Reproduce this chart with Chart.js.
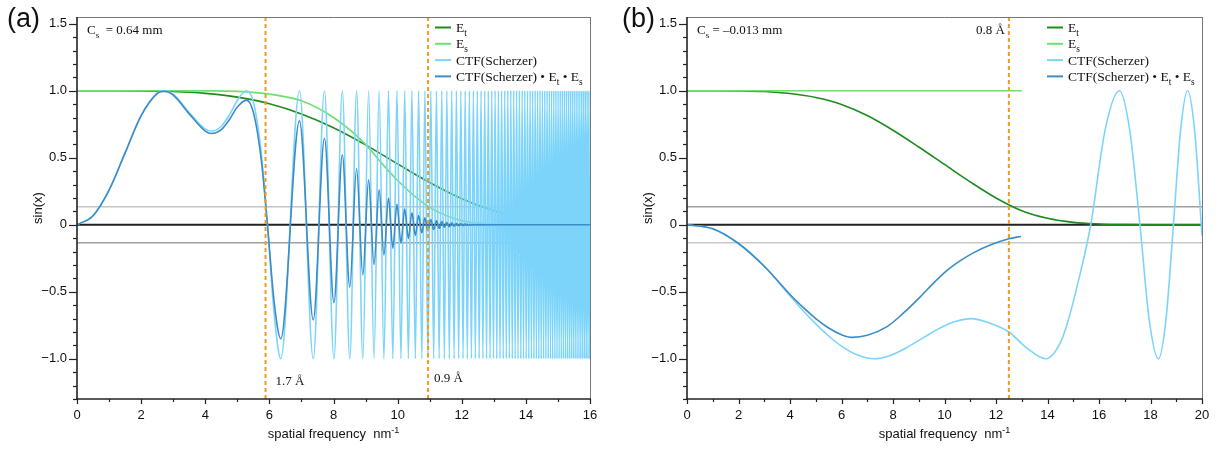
<!DOCTYPE html>
<html lang="en">
<head>
<meta charset="UTF-8">
<title>CTF (Scherzer) with envelopes</title>
<script src="https://cdn.jsdelivr.net/npm/chart.js"></script>
<style>
  body { margin: 0; background: #fff; }
  #wrap { position: relative; width: 1219px; height: 452px; }
  #wrap canvas { position: absolute; top: 0; }
</style>
</head>
<body>
<div id="wrap">
  <canvas id="ctfA" width="600" height="452" style="left:0px"></canvas>
  <canvas id="ctfB" width="609" height="452" style="left:610px"></canvas>
</div>
<script>
// ---------- panel (a): Cs = 0.64 mm ----------
const freqA = [0, 1, 2, 3, 4, 5, 6, 7, 8, 9, 10, 11, 12, 13, 14, 15, 16];
const etA   = [1, 1, 0.999, 0.994, 0.980, 0.952, 0.903, 0.827, 0.724, 0.596, 0.454, 0.315, 0.194, 0.105, 0.048, 0.018, 0.006];
const esFreqA = [0, 1, 2, 3, 4, 5, 6, 7, 8, 9, 9.5, 10, 10.5, 11, 11.5, 12, 12.5, 13, 14, 16];
const esA     = [1, 1, 1, 1, 0.999, 0.995, 0.975, 0.925, 0.80, 0.60, 0.46, 0.33, 0.22, 0.13, 0.07, 0.03, 0.012, 0.004, 0, 0];

// CTF before the first trough (k < 6.36)
const ctfLowFreq = [0, 0.5, 1, 1.5, 2, 2.5, 2.72, 3, 3.5, 4, 4.2, 4.5, 4.75, 5, 5.28, 5.5, 5.75, 5.94, 6.15];
const ctfLow     = [0, 0.067, 0.258, 0.536, 0.815, 0.982, 1, 0.974, 0.838, 0.714, 0.699, 0.735, 0.818, 0.927, 1, 0.917, 0.531, 0, -0.667];
const dampLow    = [0, 0.067, 0.258, 0.536, 0.814, 0.979, 0.996, 0.967, 0.827, 0.699, 0.681, 0.71, 0.784, 0.878, 0.93, 0.84, 0.478, 0, -0.578];

// positions of CTF troughs (-1) and peaks (+1) beyond 6.3 nm^-1
const troughFreq = [6.356, 7.369, 8.014, 8.508, 8.915, 9.264, 9.573, 9.850, 10.103, 10.335, 10.552, 10.754, 10.944, 11.124, 11.295,
  11.457, 11.612, 11.761, 11.904, 12.041, 12.173, 12.301, 12.424, 12.544, 12.660, 12.773, 12.882, 12.989, 13.093, 13.194,
  13.293, 13.390, 13.484, 13.576, 13.666, 13.755, 13.842, 13.926, 14.010, 14.091, 14.172, 14.251, 14.328, 14.404, 14.479,
  14.553, 14.625, 14.697, 14.767, 14.836, 14.905, 14.972, 15.038, 15.104, 15.168, 15.232, 15.295, 15.357, 15.418, 15.479,
  15.538, 15.597, 15.656, 15.713, 15.770, 15.827, 15.882, 15.937, 15.992];
const peakFreq = [6.939, 7.718, 8.275, 8.720, 9.095, 9.423, 9.715, 9.979, 10.221, 10.445, 10.654, 10.851, 11.035, 11.210, 11.377,
  11.535, 11.687, 11.833, 11.973, 12.107, 12.237, 12.363, 12.485, 12.602, 12.717, 12.828, 12.936, 13.041, 13.144, 13.244,
  13.342, 13.437, 13.530, 13.622, 13.711, 13.799, 13.884, 13.968, 14.051, 14.132, 14.211, 14.290, 14.366, 14.442, 14.516,
  14.589, 14.661, 14.732, 14.802, 14.871, 14.938, 15.005, 15.071, 15.136, 15.200, 15.263, 15.326, 15.387, 15.448, 15.508,
  15.568, 15.626, 15.684, 15.742, 15.798, 15.855, 15.910, 15.965];
const ctfEndFreq = 16;
const ctfEnd = -0.5;

// damped CTF (CTF * Et * Es) at the same troughs / peaks, then flat
const dampTrough = [-0.85, -0.71, -0.58, -0.465, -0.375, -0.297, -0.225, -0.175, -0.135, -0.103, -0.079, -0.060, -0.045,
  -0.035, -0.026, -0.019, -0.014, -0.010, -0.0075, -0.0055, -0.004];
const dampPeak = [0.775, 0.645, 0.52, 0.42, 0.335, 0.26, 0.20, 0.153, 0.118, 0.090, 0.069, 0.052, 0.039, 0.030, 0.023,
  0.016, 0.012, 0.009, 0.0065, 0.0047];
const dampTailFreq = [12.3, 13, 14, 15, 16];
const dampTail     = [0, 0, 0, 0, 0];

// ---------- panel (b): Cs = -0.013 mm ----------
const freqB = [0, 1, 2, 3, 4, 5, 6, 7, 8, 9, 10, 11, 12, 13, 14, 15, 16, 17, 18, 20];
const etB   = [1, 1, 0.999, 0.994, 0.979, 0.95, 0.898, 0.815, 0.705, 0.58, 0.45, 0.32, 0.2, 0.105, 0.048, 0.018, 0.006, 0.001, 0, 0];
const esFreqB = [0, 13];
const esB     = [1, 1];
const ctfFreqB = [0, 1, 2, 3, 4, 4.5, 5, 5.5, 6, 6.6, 7.25, 7.9, 8.5, 9.2, 9.83, 10.45, 11.06, 11.7, 12.5, 13.2, 13.94, 14.5,
  14.81, 15.25, 15.68, 16.24, 16.79, 17.19, 17.59, 17.95, 18.31, 18.6, 18.89, 19.17, 19.44, 19.71, 20];
const ctfB = [0, -0.03, -0.14, -0.31, -0.53, -0.64, -0.74, -0.83, -0.905, -0.97, -1.0, -0.975, -0.92, -0.84, -0.77, -0.72,
  -0.70, -0.73, -0.80, -0.92, -1.0, -0.88, -0.71, -0.38, 0, 0.71, 1.0, 0.71, 0, -0.71, -1.0, -0.71, 0, 0.71, 1.0, 0.71, -0.08];
const dampFreqB = [0, 1, 2, 3, 4, 4.5, 5, 5.5, 6, 6.41, 7.0, 7.77, 8.4, 9.05, 9.6, 10.1, 10.6, 11.12, 11.8, 12.5, 12.97];
const dampB     = [0, -0.03, -0.14, -0.31, -0.52, -0.615, -0.70, -0.77, -0.82, -0.84, -0.825, -0.76, -0.66, -0.54, -0.43,
  -0.34, -0.27, -0.21, -0.15, -0.105, -0.087];

// ---------- helpers ----------
const COL = { et: '#1d8c1d', es: '#6ee06e', ctf: '#7dd4fb', damp: '#3b8cc8', orange: '#f59a1e' };
const SERIF = '"Liberation Serif", "Times New Roman", serif';
const SANS = '"Liberation Sans", Arial, Helvetica, sans-serif';

const pts = (xs, ys) => xs.map((x, i) => ({ x: x, y: ys[i] }));
const byX = (a, b) => a.x - b.x;

const ctfAPts = pts(ctfLowFreq, ctfLow)
  .concat(troughFreq.map(x => ({ x: x, y: -1 })), peakFreq.map(x => ({ x: x, y: 1 })))
  .sort(byX)
  .concat([{ x: ctfEndFreq, y: ctfEnd }]);

const dampAPts = pts(ctfLowFreq, dampLow)
  .concat(pts(troughFreq.slice(0, dampTrough.length), dampTrough), pts(peakFreq.slice(0, dampPeak.length), dampPeak))
  .sort(byX)
  .concat(pts(dampTailFreq, dampTail));

function drawRich(ctx, parts, x, y, size, family, align) {
  const fonts = parts.map(p => (p[1] ? size * 0.7 : size) + 'px ' + family);
  let total = 0;
  const widths = parts.map((p, i) => { ctx.font = fonts[i]; const w = ctx.measureText(p[0]).width; total += w; return w; });
  let cx = align === 'right' ? x - total : align === 'center' ? x - total / 2 : x;
  ctx.textAlign = 'left';
  ctx.textBaseline = 'alphabetic';
  parts.forEach((p, i) => {
    ctx.font = fonts[i];
    const dy = p[1] === 1 ? size * 0.28 : p[1] === 2 ? -size * 0.42 : 0;
    ctx.fillText(p[0], cx, y + dy);
    cx += widths[i];
  });
}

function seg(ctx, x1, y1, x2, y2) {
  ctx.beginPath(); ctx.moveTo(x1, y1); ctx.lineTo(x2, y2); ctx.stroke();
}

const legendItems = [
  { color: COL.et, parts: [['E'], ['t', 1]] },
  { color: COL.es, parts: [['E'], ['s', 1]] },
  { color: COL.ctf, parts: [['CTF(Scherzer)']] },
  { color: COL.damp, parts: [['CTF(Scherzer) \u2022 E'], ['t', 1], [' \u2022 E'], ['s', 1]] }
];

const decor = {
  id: 'decor',
  beforeDatasetsDraw(chart, args, o) {
    const { ctx, chartArea: a, scales: { y } } = chart;
    ctx.save();
    ctx.lineWidth = 1.5;
    ctx.strokeStyle = o.grayTop;
    seg(ctx, a.left, y.getPixelForValue(0.134), a.right, y.getPixelForValue(0.134));
    ctx.strokeStyle = o.grayBottom;
    seg(ctx, a.left, y.getPixelForValue(-0.134), a.right, y.getPixelForValue(-0.134));
    ctx.strokeStyle = '#222';
    ctx.lineWidth = 2;
    seg(ctx, a.left, y.getPixelForValue(0), a.right, y.getPixelForValue(0));
    ctx.restore();
  },
  afterDatasetsDraw(chart, args, o) {
    const { ctx, chartArea: a, scales: { x } } = chart;
    ctx.save();
    ctx.strokeStyle = COL.orange;
    ctx.lineWidth = 2;
    ctx.setLineDash([4, 3]);
    o.vlines.forEach(v => { const px = x.getPixelForValue(v); seg(ctx, px, a.top, px, a.bottom); });
    ctx.restore();
  },
  afterDraw(chart, args, o) {
    const { ctx, chartArea: a, scales: { x, y } } = chart;
    ctx.save();
    // frame
    ctx.strokeStyle = '#777';
    ctx.lineWidth = 1;
    seg(ctx, a.left, a.top + 0.5, a.right, a.top + 0.5);
    seg(ctx, a.right + 0.5, a.top, a.right + 0.5, a.bottom);
    ctx.strokeStyle = '#222';
    ctx.lineWidth = 1.6;
    seg(ctx, a.left, a.top, a.left, a.bottom + 1);
    seg(ctx, a.left - 1, a.bottom, a.right + 1, a.bottom);
    // ticks
    ctx.lineWidth = 1.2;
    for (let i = 0; i <= o.xMax; i++) {
      const px = Math.round(x.getPixelForValue(i)) + 0.5;
      seg(ctx, px, a.bottom, px, a.bottom + (i % 2 === 0 ? 5 : 3));
    }
    for (let j = -13; j <= 15; j++) {
      const py = Math.round(y.getPixelForValue(j / 10)) + 0.5;
      seg(ctx, a.left - (j % 5 === 0 ? 8 : 4), py, a.left, py);
    }
    // texts
    ctx.fillStyle = '#111';
    drawRich(ctx, [[o.panel]], o.panelX, 27, 27, SANS, 'left');
    ctx.save();
    ctx.translate(37, (a.top + a.bottom) / 2);
    ctx.rotate(-Math.PI / 2);
    drawRich(ctx, [['sin(x)']], 0, 5, 13, SANS, 'center');
    ctx.restore();
    drawRich(ctx, [['spatial frequency  nm'], ['-1', 2]], (a.left + a.right) / 2, 438, 13, SANS, 'center');
    drawRich(ctx, o.cs, a.left + 10, 34, 13, SERIF, 'left');
    o.notes.forEach(n => {
      const px = x.getPixelForValue(n.at);
      drawRich(ctx, [[n.text]], px + n.dx, n.y, 13, SERIF, n.align);
    });
    // legend
    legendItems.forEach((it, i) => {
      const ry = 27.5 + i * 16.3;
      ctx.strokeStyle = it.color;
      ctx.lineWidth = 2;
      seg(ctx, a.right - 155, ry, a.right - 139, ry);
      ctx.fillStyle = '#111';
      drawRich(ctx, it.parts, a.right - 134, ry + 4.5, 13.5, SERIF, 'left');
    });
    ctx.restore();
  }
};

function yTick(v) {
  const t = Math.round(v * 10);
  if (t % 5 !== 0) return '';
  if (t === 0) return '0';
  return (t < 0 ? '\u2212' : '') + Math.abs(t / 10).toFixed(1);
}

function line(data, color, order) {
  return { data: data, borderColor: color, backgroundColor: color, borderWidth: 1.6, pointRadius: 0,
           cubicInterpolationMode: 'monotone', fill: false, order: order };
}

function makeChart(id, datasets, xMax, padRight, deco) {
  return new Chart(document.getElementById(id), {
    type: 'line',
    data: { datasets: datasets },
    options: {
      responsive: false,
      animation: false,
      events: [],
      layout: { padding: { top: 17, right: padRight, left: 0, bottom: 0 } },
      plugins: { legend: { display: false }, tooltip: { enabled: false }, decor: deco },
      scales: {
        x: {
          type: 'linear', min: 0, max: xMax,
          grid: { display: false }, border: { display: false },
          ticks: { stepSize: 2, autoSkip: false, maxRotation: 0, padding: 1, color: '#111', font: { family: SANS, size: 13 } },
          afterFit: s => { s.height = 53; }
        },
        y: {
          min: -1.3, max: 1.55,
          grid: { display: false }, border: { display: false },
          ticks: { stepSize: 0.1, autoSkip: false, includeBounds: false, padding: 2, color: '#111',
                   font: { family: SANS, size: 13 }, callback: yTick },
          afterFit: s => { s.width = 77; }
        }
      }
    },
    plugins: [decor]
  });
}

makeChart('ctfA', [
  line(pts(freqA, etA), COL.et, 4),
  line(pts(esFreqA, esA), COL.es, 3),
  line(ctfAPts, COL.ctf, 2),
  line(dampAPts, COL.damp, 1)
], 16, 10, {
  panel: '(a)', panelX: 7, xMax: 16, vlines: [5.88, 10.95],
  grayTop: '#c4c4c4', grayBottom: '#a0a0a0',
  cs: [['C'], ['s', 1], ['  = 0.64 mm']],
  notes: [
    { text: '1.7 \u00C5', at: 5.88, dx: 10, y: 385, align: 'left' },
    { text: '0.9 \u00C5', at: 10.95, dx: 6, y: 382, align: 'left' }
  ]
});

makeChart('ctfB', [
  line(pts(freqB, etB), COL.et, 4),
  line(pts(esFreqB, esB), COL.es, 3),
  line(pts(ctfFreqB, ctfB), COL.ctf, 2),
  line(pts(dampFreqB, dampB), COL.damp, 1)
], 20, 17, {
  panel: '(b)', panelX: 12, xMax: 20, vlines: [12.5],
  grayTop: '#a0a0a0', grayBottom: '#c8c8c8',
  cs: [['C'], ['s', 1], [' = \u20130.013 mm']],
  notes: [
    { text: '0.8 \u00C5', at: 12.5, dx: -4, y: 34, align: 'right' }
  ]
});
</script>
</body>
</html>
